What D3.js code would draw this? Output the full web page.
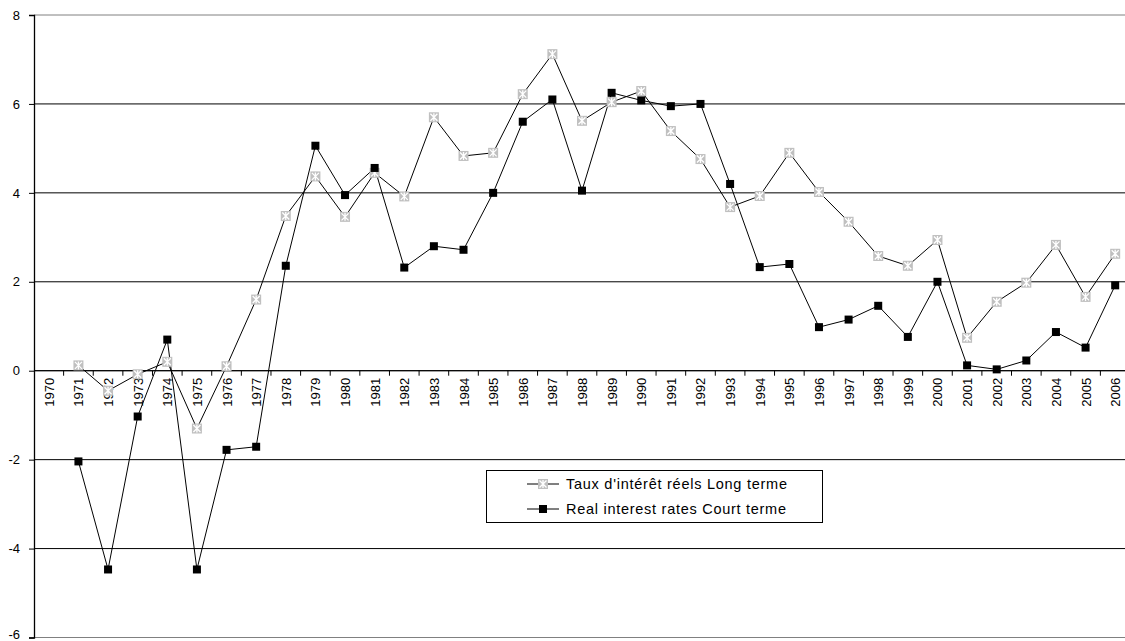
<!DOCTYPE html>
<html>
<head>
<meta charset="utf-8">
<script src="https://cdn.jsdelivr.net/npm/d3@7"></script>
<style>
  body { margin: 0; background: #fff; }
  svg text { font-family: "Liberation Sans", Arial, sans-serif; fill: #000; }
</style>
</head>
<body>
<svg id="chart" width="1125" height="641"></svg>
<script>
// years on the category axis
var years = d3.range(1970, 2007).map(String);

// Taux d'intérêt réels Long terme (no value for 1970)
var longTerm = [null, 0.12, -0.45, -0.08, 0.2, -1.3, 0.1, 1.6, 3.48, 4.37,
  3.46, 4.45, 3.92, 5.7, 4.83, 4.9, 6.22, 7.12, 5.62, 6.04,
  6.29, 5.39, 4.76, 3.68, 3.93, 4.9, 4.02, 3.35, 2.58, 2.36,
  2.94, 0.74, 1.55, 1.98, 2.83, 1.66, 2.63];

// Real interest rates Court terme
var shortTerm = [null, -2.04, -4.47, -1.03, 0.7, -4.47, -1.78, -1.71, 2.36, 5.06,
  3.95, 4.56, 2.32, 2.8, 2.72, 4.0, 5.6, 6.1, 4.05, 6.25,
  6.08, 5.95, 6.0, 4.2, 2.33, 2.4, 0.98, 1.15, 1.46, 0.76,
  2.0, 0.12, 0.03, 0.23, 0.87, 0.52, 1.92];

var yTicks = [-6, -4, -2, 0, 2, 4, 6, 8];
var seriesNames = ["Taux d'intérêt réels Long terme", "Real interest rates Court terme"];

var svg = d3.select("#chart");
var plotL = 34, plotR = 1130, plotT = 15, plotB = 637.5;

var x = d3.scaleBand().domain(years).range([plotL, plotR]);
var y = d3.scaleLinear().domain([-6, 8]).range([plotB, plotT]);

// gridlines
svg.append("g").selectAll("line")
  .data(yTicks)
  .enter().append("line")
  .attr("x1", plotL).attr("x2", 1125)
  .attr("y1", d => y(d)).attr("y2", d => y(d))
  .attr("stroke", d => (d == 8 || d == -6) ? "#808080" : "#000")
  .attr("stroke-width", 1);

// y axis
var yAxis = svg.append("g")
  .attr("transform", `translate(${plotL},0)`)
  .call(d3.axisLeft(y).tickValues(yTicks).tickSize(5).tickPadding(9).tickFormat(d => String(d)));
yAxis.select(".domain").attr("stroke", "#000").attr("stroke-width", 1.3);
yAxis.selectAll("text")
  .style("font-size", "13px")
  .style("font-family", "Liberation Sans, Arial, sans-serif")
  .attr("dy", d => d == -6 ? "0.1em" : "0.32em");

// x axis on the zero line, ticks between categories
var xg = svg.append("g").attr("transform", `translate(0,${y(0)})`);
xg.append("line").attr("x1", plotL).attr("x2", 1125).attr("stroke", "#000");
xg.selectAll("line.tk")
  .data(years.slice(1))
  .enter().append("line")
  .attr("class", "tk")
  .attr("x1", d => x(d)).attr("x2", d => x(d))
  .attr("y1", 0).attr("y2", 5)
  .attr("stroke", "#000");
xg.selectAll("text")
  .data(years)
  .enter().append("text")
  .attr("transform", d => `translate(${x(d) + x.bandwidth() / 2 + 5},7) rotate(-90)`)
  .attr("text-anchor", "end")
  .attr("textLength", 29)
  .attr("lengthAdjust", "spacingAndGlyphs")
  .style("font-size", "13.5px")
  .text(d => d);

var cx = d => x(d) + x.bandwidth() / 2;

var line = d3.line()
  .defined(d => d.v != null)
  .x(d => cx(d.year))
  .y(d => y(d.v));

var longData = years.map((yr, i) => ({year: yr, v: longTerm[i]}));
var shortData = years.map((yr, i) => ({year: yr, v: shortTerm[i]}));

svg.append("path").datum(longData)
  .attr("d", line).attr("fill", "none").attr("stroke", "#000").attr("stroke-width", 1);
svg.append("path").datum(shortData)
  .attr("d", line).attr("fill", "none").attr("stroke", "#000").attr("stroke-width", 1);

function grayMarker(g, px, py) {
  g.append("rect").attr("x", px - 5).attr("y", py - 5).attr("width", 10).attr("height", 10)
    .attr("fill", "#c0c0c0");
  g.append("path")
    .attr("d", `M${px - 3.5},${py - 3.5}L${px + 3.5},${py + 3.5}M${px + 3.5},${py - 3.5}L${px - 3.5},${py + 3.5}M${px},${py - 4}L${px},${py + 4}`)
    .attr("stroke", "#fff").attr("stroke-width", 1.3);
}
function blackMarker(g, px, py) {
  g.append("rect").attr("x", px - 4).attr("y", py - 4).attr("width", 8).attr("height", 8)
    .attr("fill", "#000");
}

var mk = svg.append("g");
longData.filter(d => d.v != null).forEach(d => grayMarker(mk, cx(d.year), y(d.v)));
shortData.filter(d => d.v != null).forEach(d => blackMarker(mk, cx(d.year), y(d.v)));

// legend
var lg = svg.append("g");
lg.append("rect").attr("x", 486.5).attr("y", 470.5).attr("width", 336).attr("height", 52)
  .attr("fill", "#fff").attr("stroke", "#000");
[0, 1].forEach(function (i) {
  var ly = 484 + i * 25;
  lg.append("line").attr("x1", 527).attr("x2", 559).attr("y1", ly).attr("y2", ly).attr("stroke", "#000");
  if (i == 0) grayMarker(lg, 543, ly); else blackMarker(lg, 543, ly);
  lg.append("text").attr("x", 566).attr("y", ly + 5)
    .attr("textLength", i == 0 ? 221 : 220)
    .attr("lengthAdjust", "spacing")
    .style("font-size", "14.5px")
    .text(seriesNames[i]);
});
</script>
</body>
</html>
